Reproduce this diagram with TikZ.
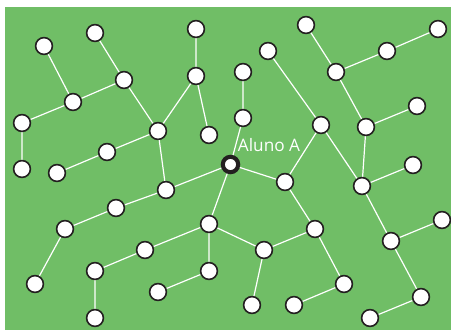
\documentclass[tikz,border=0pt]{standalone}
\usepackage{fontspec}
\setmainfont{Open Sans}
\definecolor{fieldgreen}{RGB}{112,190,102}
\definecolor{ringblack}{RGB}{35,31,32}
\pgfdeclarelayer{bg}
\pgfdeclarelayer{edgel}
\pgfsetlayers{bg,edgel,main}
\tikzset{
  pt/.style={circle,fill=white,draw=ringblack,line width=1.6pt,minimum size=16.8pt,inner sep=0pt},
  mainpt/.style={circle,fill=white,draw=ringblack,line width=4.1pt,minimum size=15.4pt,inner sep=0pt},
  link/.style={draw=white,line width=1.2pt},
  lbl/.style={text=white,font=\fontsize{17.2}{18}\selectfont,inner sep=0pt}
}
\begin{document}
\begin{tikzpicture}[x=1pt,y=-1pt]
\useasboundingbox (0,0) rectangle (451,330);
\begin{pgfonlayer}{bg}
\fill[fieldgreen] (5,7) rectangle (451,330);
\end{pgfonlayer}
\node[pt] (a1) at (44,46) {};
\node[pt] (a2) at (95,33) {};
\node[pt] (a3) at (196,29) {};
\node[pt] (a4) at (124,80) {};
\node[pt] (a5) at (196,76) {};
\node[pt] (a6) at (73,102) {};
\node[pt] (a7) at (22,123) {};
\node[pt] (a8) at (158,131) {};
\node[pt] (a9) at (209,135) {};
\node[pt] (a10) at (107,152) {};
\node[pt] (a11) at (22,169) {};
\node[pt] (a12) at (57,173) {};
\node[pt] (b1) at (306,25) {};
\node[pt] (b2) at (268,51) {};
\node[pt] (b3) at (243,72) {};
\node[pt] (b4) at (336,72) {};
\node[pt] (b5) at (387,51) {};
\node[pt] (b6) at (438,29) {};
\node[pt] (b7) at (243,118) {};
\node[pt] (b8) at (321,125) {};
\node[pt] (b9) at (366,127) {};
\node[pt] (b10) at (417,106) {};
\node[pt] (b11) at (413,165) {};
\node[mainpt] (A) at (230.5,164.5) {};
\node[lbl] (Alabel) at (269,145) {Aluno A};
\node[pt] (c1) at (166,190) {};
\node[pt] (c2) at (116,208) {};
\node[pt] (c3) at (65,229) {};
\node[pt] (c4) at (209,224) {};
\node[pt] (c5) at (145,250) {};
\node[pt] (c6) at (95,271) {};
\node[pt] (c7) at (35,284) {};
\node[pt] (c8) at (209,271) {};
\node[pt] (c9) at (158,292) {};
\node[pt] (c10) at (95,318) {};
\node[pt] (d1) at (285,182) {};
\node[pt] (d2) at (362,186) {};
\node[pt] (d3) at (315,229) {};
\node[pt] (d4) at (264,250) {};
\node[pt] (d5) at (391,241) {};
\node[pt] (d6) at (442,220) {};
\node[pt] (d7) at (344,284) {};
\node[pt] (d8) at (252,305) {};
\node[pt] (d9) at (294,305) {};
\node[pt] (d10) at (421,297) {};
\node[pt] (d11) at (370,318) {};
\begin{pgfonlayer}{edgel}
\path[link]
  (a1.center)--(a6.center) (a2.center)--(a4.center) (a4.center)--(a6.center)
  (a6.center)--(a7.center) (a7.center)--(a11.center) (a4.center)--(a8.center)
  (a8.center)--(a5.center) (a3.center)--(a5.center) (a5.center)--(a9.center)
  (a8.center)--(a10.center) (a10.center)--(a12.center) (a8.center)--(c1.center)
  (b1.center)--(b4.center) (b4.center)--(b5.center) (b5.center)--(b6.center)
  (b4.center)--(b9.center) (b9.center)--(b10.center) (b2.center)--(b8.center)
  (b3.center)--(b7.center) (b7.center)--(A.center) (b8.center)--(d1.center)
  (b8.center)--(d2.center) (b9.center)--(d2.center)
  (A.center)--(d1.center) (d1.center)--(d3.center) (d3.center)--(d4.center)
  (c4.center)--(d4.center) (d4.center)--(d8.center) (d3.center)--(d7.center)
  (d7.center)--(d9.center) (d2.center)--(b11.center) (d2.center)--(d5.center)
  (d5.center)--(d6.center) (d5.center)--(d10.center) (d10.center)--(d11.center)
  (A.center)--(c4.center)
  (c1.center)--(c2.center) (c1.center)--(A.center) (c2.center)--(c3.center)
  (c3.center)--(c7.center) (c4.center)--(c5.center) (c5.center)--(c6.center)
  (c6.center)--(c10.center) (c4.center)--(c8.center) (c8.center)--(c9.center);
\end{pgfonlayer}
\end{tikzpicture}
\end{document}
